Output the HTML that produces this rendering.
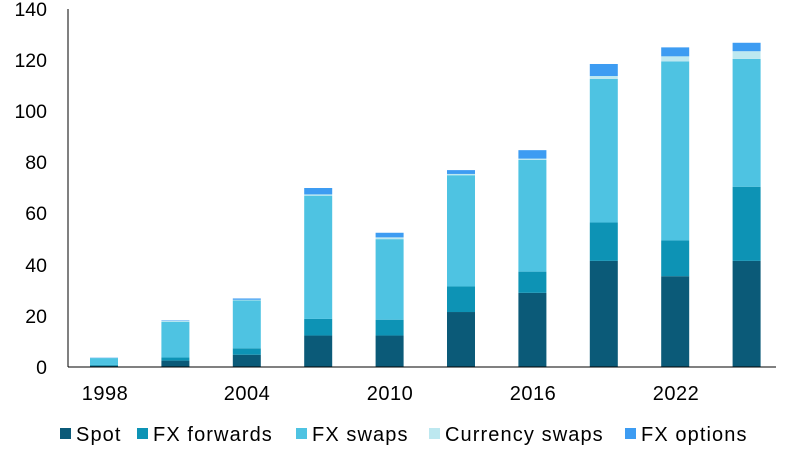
<!DOCTYPE html>
<html><head><meta charset="utf-8"><style>
body{margin:0;background:#fff;}
text{font-family:"Liberation Sans",Arial,sans-serif;fill:#000;}
</style></head><body>
<svg width="800" height="450" viewBox="0 0 800 450" xmlns="http://www.w3.org/2000/svg">
<g font-size="19.5" text-anchor="end">
<text x="47" y="374">0</text>
<text x="47" y="323">20</text>
<text x="47" y="272">40</text>
<text x="47" y="220">60</text>
<text x="47" y="169">80</text>
<text x="47" y="118">100</text>
<text x="47" y="67">120</text>
<text x="47" y="16">140</text>
</g>
<g id="bars"></g>
<line x1="68" y1="9" x2="68" y2="367" stroke="#000" stroke-width="1"/>
<line x1="68" y1="367" x2="776" y2="367" stroke="#000" stroke-width="1"/>
<g font-size="20" text-anchor="middle" letter-spacing="0.5">
<text x="105" y="400">1998</text>
<text x="247" y="400">2004</text>
<text x="390" y="400">2010</text>
<text x="533" y="400">2016</text>
<text x="676" y="400">2022</text>
</g>
<g font-size="20" letter-spacing="1.1">
<rect x="60" y="428" width="11" height="11" fill="#0b5a78"/><text x="76" y="441">Spot</text>
<rect x="137" y="428" width="11" height="11" fill="#0d93b5"/><text x="153" y="441">FX forwards</text>
<rect x="296" y="428" width="11" height="11" fill="#4ec3e2"/><text x="312" y="441">FX swaps</text>
<rect x="429" y="428" width="11" height="11" fill="#bde8f0"/><text x="445" y="441">Currency swaps</text>
<rect x="625" y="428" width="11" height="11" fill="#3d9cf2"/><text x="641" y="441">FX options</text>
</g>
</svg>
<script>
var d=[[0.5,0.8,3.5,3.6,3.7],[2.5,3.7,17.7,18,18.2],[4.8,7.3,26,26.3,26.8],[12.3,18.8,67,67.5,70],[12.3,18.5,50,50.7,52.5],[21.5,31.5,75,75.5,77],[29,37.3,81,81.5,84.8],[41.5,56.5,112.7,113.8,118.5],[35.5,49.5,119.5,121.5,125],[41.5,70.5,120.5,123.5,126.8]];
var c=["#0b5a78","#0d93b5","#4ec3e2","#bde8f0","#3d9cf2"];
var g=document.getElementById("bars"),s="";
function y(v){return 367-v*2.557;}
d.forEach(function(r,i){var x=90+i*71.4,p=0;r.forEach(function(v,j){s+='<rect x="'+x+'" y="'+y(v)+'" width="28" height="'+(y(p)-y(v))+'" fill="'+c[j]+'"/>';p=v;});});
g.innerHTML=s;
</script>
</body></html>
